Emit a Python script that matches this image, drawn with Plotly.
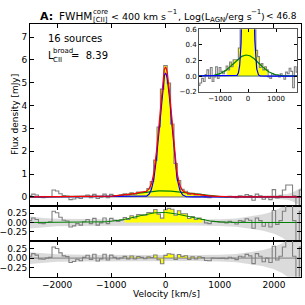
import numpy as np
import plotly.graph_objects as go

# ---------------- data ----------------
velocity = [-2500 + 62.5 * k for k in range(81)]
flux = [0.05, 0.12, 0.08, -0.02, -0.03, 0.00, 0.02, 0.30, 0.26, 0.14,
        0.06, 0.04, -0.12, -0.09, -0.03, -0.07, 0.02, 0.08, -0.03, 0.11,
        -0.07, -0.01, 0.12, -0.03, 0.11, 0.06, 0.03, 0.07, 0.13, 0.08,
        0.18, 0.12, 0.21, 0.21, 0.21, 0.36, 0.67, 1.61, 3.06, 4.72,
        5.75, 4.98, 3.19, 1.46, 0.72, 0.33, 0.25, 0.11, 0.16, 0.08,
        0.12, 0.08, -0.01, -0.03, 0.03, 0.02, 0.01, 0.01, -0.01, 0.03,
        0.00, -0.04, 0.05, 0.03, 0.10, 0.06, -0.15, 0.12, 0.05, -0.10,
        0.00, -0.12, 0.32, -0.05, 0.05, 0.30, 0.52, 0.52, 0.05, -0.55,
        0.30]

# Gaussian fit parameters (amplitude mJy, centre km/s, sigma km/s)
narrow_amp, narrow_cen, narrow_sig = 5.41, 0.0, 110.0
broad_amp, broad_cen, broad_sig = 0.27, -60.0, 450.0

# yellow highlighted velocity window
fill_lo, fill_hi = -750, 690

# noise envelope (residual panels) and in the main panel
noise_v = [-2500, -2250, -2000, -1500, -1000, -500, 0, 500, 1000, 1300,
           1600, 1800, 2000, 2150, 2250, 2350, 2500]
noise_s = [0.16, 0.12, 0.10, 0.09, 0.085, 0.08, 0.08, 0.08, 0.09, 0.11,
           0.17, 0.22, 0.30, 0.40, 0.50, 0.70, 1.20]
noise_main = [0.05, 0.04, 0.03, 0.03, 0.03, 0.03, 0.03, 0.03, 0.03, 0.04,
              0.05, 0.06, 0.08, 0.10, 0.13, 0.20, 0.40]

n_sources = 16
l_broad = 8.39

# ---------------- derived ----------------
v = np.array(velocity, dtype=float)
f = np.array(flux)
vf = np.linspace(-2500, 2500, 1001)


def gauss(x, a, c, s):
    return a * np.exp(-(x - c) ** 2 / (2 * s ** 2))


nar_f = gauss(vf, narrow_amp, narrow_cen, narrow_sig)
bro_f = gauss(vf, broad_amp, broad_cen, broad_sig)
tot_f = nar_f + bro_f
res_broad = f - gauss(v, narrow_amp, narrow_cen, narrow_sig)
res_all = res_broad - gauss(v, broad_amp, broad_cen, broad_sig)
win = (v >= fill_lo) & (v <= fill_hi)

GREY = '#808080'
YEL = '#ffff00'
BAND = 'rgba(0,0,0,0.14)'
FONT = 'DejaVu Sans'

fig = go.Figure()


def band(xa, ya, sig):
    fig.add_trace(go.Scatter(x=noise_v, y=[-s for s in sig], mode='lines',
                             line=dict(width=0), xaxis=xa, yaxis=ya,
                             showlegend=False, hoverinfo='skip'))
    fig.add_trace(go.Scatter(x=noise_v, y=sig, mode='lines', line=dict(width=0),
                             fill='tonexty', fillcolor=BAND, xaxis=xa, yaxis=ya,
                             showlegend=False, hoverinfo='skip'))


def steps(y, xa, ya):
    fig.add_trace(go.Scatter(x=v[win], y=y[win], mode='lines', line=dict(width=0, shape='hvh'),
                             fill='tozeroy', fillcolor=YEL, xaxis=xa, yaxis=ya,
                             showlegend=False, hoverinfo='skip'))


def hline(y0, color, xa, ya, x0=-2600, x1=2600):
    fig.add_trace(go.Scatter(x=[x0, x1], y=[y0, y0], mode='lines', line=dict(color=color, width=1),
                             xaxis=xa, yaxis=ya, showlegend=False, hoverinfo='skip'))


def dataline(y, xa, ya):
    fig.add_trace(go.Scatter(x=v, y=y, mode='lines', line=dict(color=GREY, width=1.1, shape='hvh'),
                             xaxis=xa, yaxis=ya, showlegend=False, hoverinfo='skip'))


# main panel
band('x', 'y', noise_main)
steps(f, 'x', 'y')
hline(0, GREY, 'x', 'y')
dataline(f, 'x', 'y')
fig.add_trace(go.Scatter(x=vf, y=bro_f, mode='lines', line=dict(color='#008000', width=1.2),
                         showlegend=False, hoverinfo='skip'))
fig.add_trace(go.Scatter(x=vf, y=nar_f, mode='lines', line=dict(color='#0000ff', width=1.2),
                         showlegend=False, hoverinfo='skip'))
fig.add_trace(go.Scatter(x=vf, y=tot_f, mode='lines', line=dict(color='#ff0000', width=1.2),
                         showlegend=False, hoverinfo='skip'))

# residual panel (data - narrow)
band('x2', 'y2', noise_s)
steps(res_broad, 'x2', 'y2')
dataline(res_broad, 'x2', 'y2')
fig.add_trace(go.Scatter(x=vf, y=bro_f, mode='lines', line=dict(color='#008000', width=1),
                         xaxis='x2', yaxis='y2', showlegend=False, hoverinfo='skip'))

# residual panel (data - total)
band('x3', 'y3', noise_s)
steps(res_all, 'x3', 'y3')
hline(0, GREY, 'x3', 'y3')
dataline(res_all, 'x3', 'y3')

# inset
steps(f, 'x4', 'y4')
hline(0, '#3f6f5f', 'x4', 'y4')
dataline(f, 'x4', 'y4')
fig.add_trace(go.Scatter(x=vf, y=bro_f, mode='lines', line=dict(color='#008000', width=1.2),
                         xaxis='x4', yaxis='y4', showlegend=False, hoverinfo='skip'))
fig.add_trace(go.Scatter(x=vf, y=nar_f, mode='lines', line=dict(color='#0000ff', width=1.2),
                         xaxis='x4', yaxis='y4', showlegend=False, hoverinfo='skip'))

W = H = 305.0


def px(x):
    return x / W


def py(y):
    return 1 - y / H


ax_common = dict(showline=True, linecolor='black', linewidth=1, mirror='allticks',
                 ticks='inside', ticklen=4, tickcolor='black', showgrid=False, zeroline=False,
                 tickfont=dict(family=FONT, size=9, color='black'))
xd = [px(30), px(301)]
fig.update_layout(
    width=305, height=305, margin=dict(l=0, r=0, t=0, b=0), autosize=False,
    paper_bgcolor='white', plot_bgcolor='white', showlegend=False,
    xaxis=dict(domain=xd, range=[-2500, 2500], dtick=1000, tick0=0, showticklabels=False,
               anchor='y', **ax_common),
    yaxis=dict(domain=[py(207), py(21)], range=[-0.38, 7.55], dtick=1, tick0=0,
               anchor='x', **ax_common),
    xaxis2=dict(domain=xd, range=[-2500, 2500], dtick=1000, tick0=0, showticklabels=False,
                anchor='y2', **ax_common),
    yaxis2=dict(domain=[py(243), py(207)], range=[-0.48, 0.45], tickvals=[-0.25, 0, 0.25],
                tickformat='.2f', anchor='x2', **ax_common),
    xaxis3=dict(domain=xd, range=[-2500, 2500], dtick=1000, tick0=0,
                anchor='y3', **ax_common),
    yaxis3=dict(domain=[py(280), py(243)], range=[-0.5, 0.47], tickvals=[-0.25, 0, 0.25],
                tickformat='.2f', anchor='x3', **ax_common),
)
inset_common = dict(ax_common)
inset_common['tickfont'] = dict(family=FONT, size=7, color='black')
inset_common['linecolor'] = '#555555'
inset_common['ticklen'] = 3
fig.update_layout(
    xaxis4=dict(domain=[px(199), px(297)], range=[-1750, 1750], tickvals=[-1000, 0, 1000],
                anchor='y4', **inset_common),
    yaxis4=dict(domain=[py(90), py(26)], range=[-0.2, 0.6], dtick=0.2, tick0=0,
                tickformat='.1f', anchor='x4', **inset_common),
)

ann = []


def text(x, y, s, size, xanchor='left', angle=0, pad=0):
    ann.append(dict(x=px(x), y=py(y), xref='paper', yref='paper', text=s, showarrow=False,
                    xanchor=xanchor, yanchor='middle', textangle=angle, borderpad=pad,
                    font=dict(family=FONT, size=size, color='black')))


# title (pieces placed to mimic stacked scripts)
text(39, 12.5, '<b>A:</b>', 11)
text(58, 12.5, 'FWHM', 10.5)
text(92, 8, 'core', 7)
text(92, 16.5, '[CII]', 7)
text(110, 12.5, '< 400 km s', 9.5)
text(165.5, 8, '−1', 7)
text(176.5, 12.5, ', Log(L', 9.5)
text(208.5, 16, 'AGN', 7)
text(223.5, 12.5, '/erg s', 9.5)
text(250, 8, '−1', 7)
text(260, 12.5, ')', 9.5)
text(297.5, 12.5, '< 46.8', 9, xanchor='right')
# annotations in the panel
text(47, 35, f'{n_sources} sources', 10)
text(46.5, 53, 'L', 10)
text(52, 48.5, 'broad', 7)
text(52, 57, 'CII', 7)
text(70, 53, f'=  {l_broad:.2f}', 10)
# axis titles
text(15, 114, 'Flux density [mJy]', 9, xanchor='center', angle=-90)
text(166, 298, 'Velocity [km/s]', 9, xanchor='center')
fig.update_layout(annotations=ann)

fig.write_html('out.html', config={'displayModeBar': False},
               post_script="document.body.style.margin='0';")
